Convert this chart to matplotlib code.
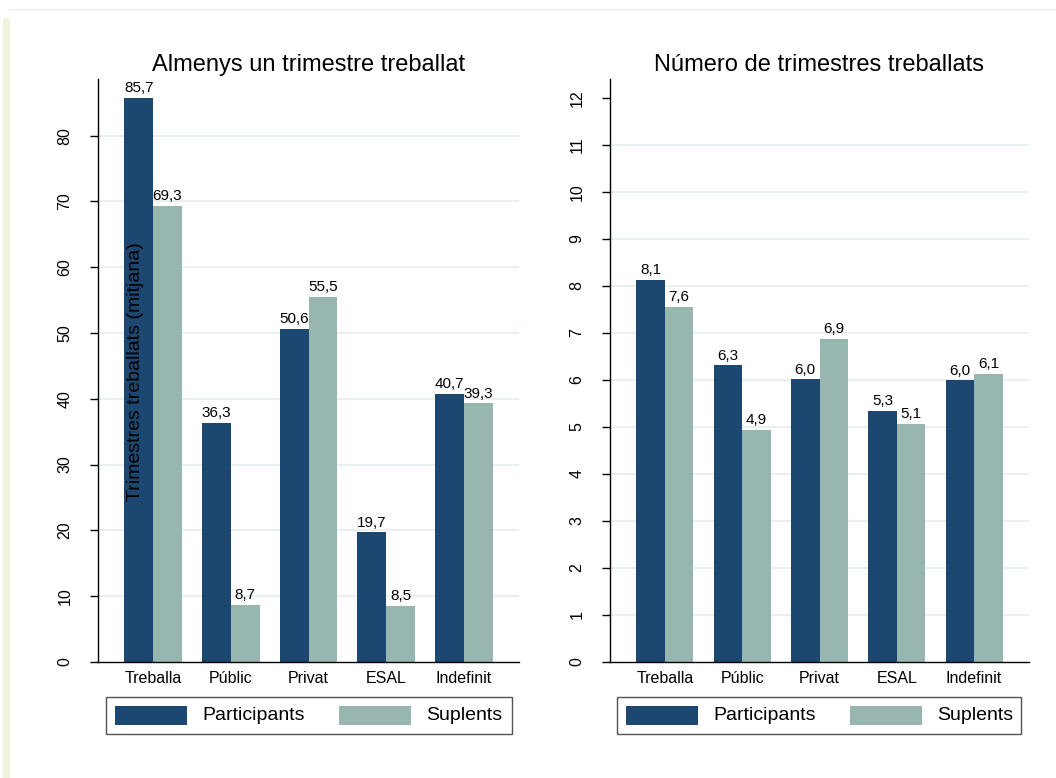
import matplotlib
matplotlib.use("Agg")
import matplotlib.pyplot as plt
from matplotlib.patches import Rectangle
from matplotlib.lines import Line2D

plt.rcParams['font.family'] = ['Liberation Sans', 'DejaVu Sans']

categories = ["Treballa", "Públic", "Privat", "ESAL", "Indefinit"]
series_names = ["Participants", "Suplents"]
left_title = "Almenys un trimestre treballat"
right_title = "Número de trimestres treballats"
y_label = "Trimestres treballats (mitjana)"

left_participants = [85.7, 36.3, 50.6, 19.7, 40.7]
left_suplents = [69.3, 8.7, 55.5, 8.5, 39.3]
right_participants = [8.12, 6.31, 6.01, 5.34, 5.99]
right_suplents = [7.56, 4.94, 6.87, 5.06, 6.13]

left_ticks = [0, 10, 20, 30, 40, 50, 60, 70, 80]
right_ticks = list(range(0, 13))

DARK = "#1b4770"
LIGHT = "#97b6b0"
GRID = "#e6eff1"

W, H = 1056, 778
fig = plt.figure(figsize=(W / 100, H / 100), dpi=100)


def fx(px):
    return px / W


def fy(py):
    return 1 - py / H


def make_panel(left_px, right_px, title, p_vals, s_vals, ticks, ytop, grid_skip_top=False):
    ax = fig.add_axes([fx(left_px), fy(662), fx(right_px - left_px), (662 - 79) / H])
    n = len(categories)
    xs = list(range(n))
    bw = 0.37
    ax.bar([x - bw / 2 for x in xs], p_vals, width=bw, color=DARK, zorder=2)
    ax.bar([x + bw / 2 for x in xs], s_vals, width=bw, color=LIGHT, zorder=2)
    for x, v in zip(xs, p_vals):
        ax.annotate(f"{v:.1f}".replace(".", ","), (x - bw / 2, v), xytext=(0, 2),
                    textcoords="offset points", ha="center", va="bottom", fontsize=11, zorder=3)
    for x, v in zip(xs, s_vals):
        ax.annotate(f"{v:.1f}".replace(".", ","), (x + bw / 2, v), xytext=(0, 2),
                    textcoords="offset points", ha="center", va="bottom", fontsize=11, zorder=3)
    ax.set_xlim(-0.71, n - 1 + 0.71)
    ax.set_ylim(0, ytop)
    ax.set_yticks(ticks)
    ax.set_yticklabels([str(t) for t in ticks], rotation=90, va="center", fontsize=11.5)
    ax.set_xticks(xs)
    ax.set_xticklabels(categories, fontsize=11.5)
    ax.tick_params(axis="x", length=0, pad=6.5)
    ax.tick_params(axis="y", length=5.5, width=1.0, pad=13, direction="out")
    for t in ticks:
        if t == 0:
            continue
        if grid_skip_top and t == ticks[-1]:
            continue
        ax.axhline(t, color=GRID, lw=1.3, zorder=1)
    for s in ["top", "right"]:
        ax.spines[s].set_visible(False)
    for s in ["left", "bottom"]:
        ax.spines[s].set_linewidth(1.0)
        ax.spines[s].set_color("black")
    ax.set_title(title, fontsize=17, pad=6)
    return ax


axL = make_panel(98, 519, left_title, left_participants, left_suplents, left_ticks, 88.6)
axR = make_panel(610, 1029, right_title, right_participants, right_suplents, right_ticks, 12.4,
                 grid_skip_top=True)

# y label (overlapping the left panel as in the original)
fig.text(fx(135), fy(372), y_label, rotation=90, ha="center", va="center", fontsize=14, zorder=10)


def legend_box(box_left, box_right):
    top, bottom = 697, 734
    fig.patches.append(Rectangle((fx(box_left), fy(bottom)), fx(box_right - box_left),
                                 (bottom - top) / H, transform=fig.transFigure,
                                 facecolor="white", edgecolor="#555555", lw=1.0, zorder=5))
    colors = [DARK, LIGHT]
    starts = [box_left + 9, box_left + 233]
    for name, c, sx in zip(series_names, colors, starts):
        fig.patches.append(Rectangle((fx(sx), fy(725)), fx(72), 19 / H, transform=fig.transFigure,
                                     facecolor=c, edgecolor="none", zorder=6))
        fig.text(fx(sx + 87), fy(716), name, ha="left", va="center", fontsize=14, zorder=7)


legend_box(106, 512)
legend_box(617, 1021)

# faint outer frame
fig.add_artist(Line2D([fx(10), 1], [fy(10), fy(10)], transform=fig.transFigure,
                      color="#eef2f2", lw=1.5))
fig.patches.append(Rectangle((fx(3), 0), fx(7), fy(18), transform=fig.transFigure,
                             facecolor="#eff4df", edgecolor="none", zorder=0))

fig.savefig("out.png", dpi=100)
